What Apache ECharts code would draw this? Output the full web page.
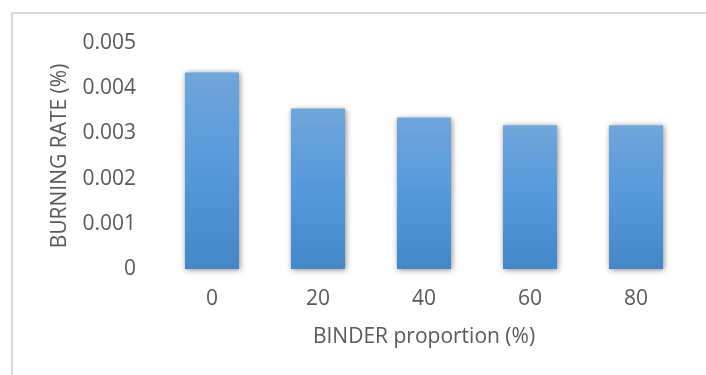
<!DOCTYPE html>
<html>
<head>
<meta charset="utf-8">
<script src="https://cdn.jsdelivr.net/npm/echarts@6/dist/echarts.min.js"></script>
<style>
  html, body { margin: 0; padding: 0; background: #fff; }
  #frame { position: absolute; left: 11px; top: 12px; width: 695px; height: 363px;
           border-left: 2px solid #d9d9d9; border-top: 2px solid #d9d9d9; box-sizing: border-box; }
  #chart { position: absolute; left: 0; top: 0; width: 706px; height: 375px; }
</style>
</head>
<body>
<div id="frame"></div>
<div id="chart"></div>
<script>
  // binder proportion categories and burning rate values
  let categories = ['0', '20', '40', '60', '80']
  let burningRate = [0.00435, 0.00355, 0.00335, 0.00318, 0.00318]
  let yTicks = [0, 0.001, 0.002, 0.003, 0.004, 0.005]

  let textColor = '#595959'
  let font = 'Open Sans'
  let fontSize = 21

  let myEchart = echarts.init(document.getElementById('chart'))
  myEchart.setOption({
    animation: false,
    grid: { left: 159, right: 17, top: 43, bottom: 106 },
    xAxis: {
      type: 'category',
      data: categories,
      axisLine: { show: false },
      axisTick: { show: false },
      axisLabel: { color: textColor, fontFamily: font, fontSize: fontSize, margin: 20 },
      name: 'BINDER proportion (%)',
      nameLocation: 'middle',
      nameGap: 58,
      nameMoveOverlap: false,
      nameTextStyle: { color: textColor, fontFamily: font, fontSize: fontSize }
    },
    yAxis: {
      type: 'value',
      min: yTicks[0],
      max: yTicks[yTicks.length - 1],
      interval: 0.001,
      splitLine: { show: false },
      axisLine: { show: false },
      axisTick: { show: false },
      axisLabel: { color: textColor, fontFamily: font, fontSize: fontSize, margin: 23,
                   formatter: v => String(+v.toFixed(3)) },
      name: 'BURNING RATE (%)',
      nameLocation: 'middle',
      nameGap: 88,
      nameMoveOverlap: false,
      nameTextStyle: { color: textColor, fontFamily: font, fontSize: fontSize }
    },
    series: [
      {
        type: 'bar',
        data: burningRate,
        barWidth: '51%',
        itemStyle: {
          color: new echarts.graphic.LinearGradient(0, 0, 0, 1, [
            { offset: 0, color: '#70a6db' },
            { offset: 0.5, color: '#5599db' },
            { offset: 1, color: '#4387c7' }
          ]),
          shadowBlur: 6,
          shadowColor: 'rgba(0,0,0,0.45)',
          shadowOffsetX: 1,
          shadowOffsetY: 1
        }
      }
    ]
  })
</script>
</body>
</html>
